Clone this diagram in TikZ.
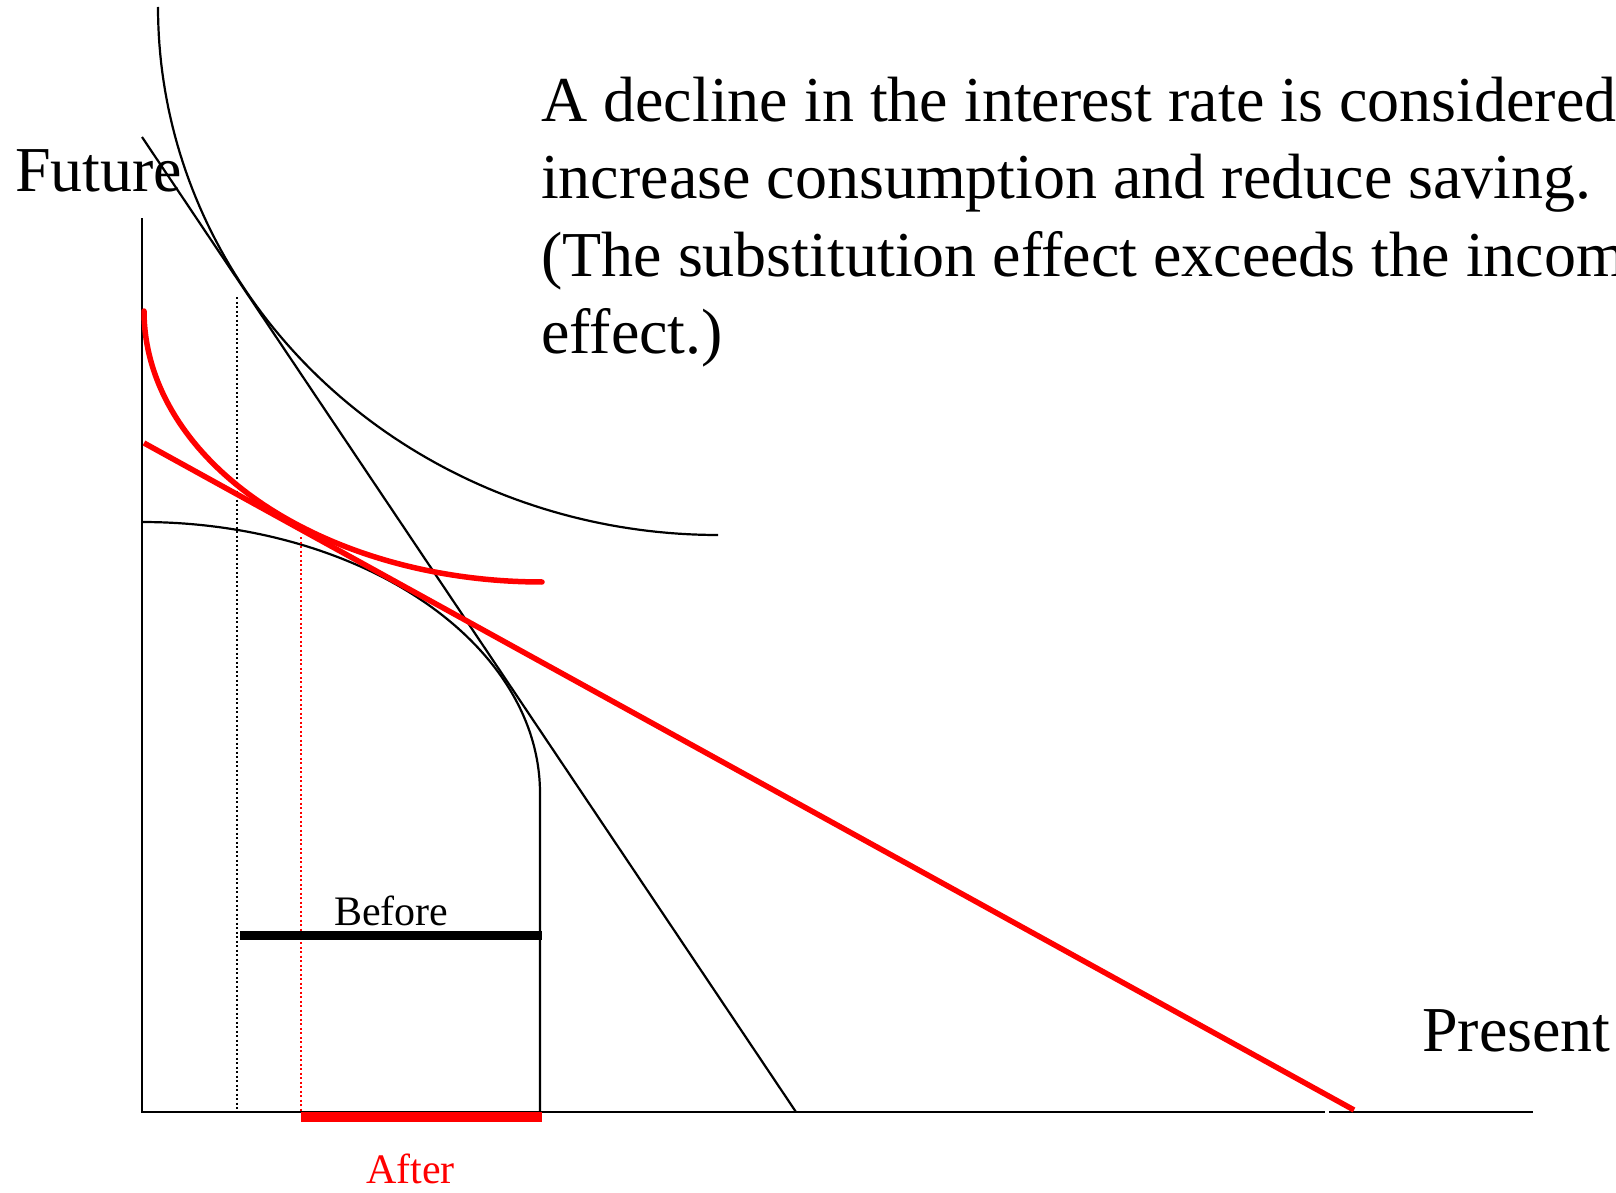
\documentclass[tikz,border=0pt]{standalone}
\usepackage{fontspec}
\setmainfont{Liberation Serif}
\begin{document}
\begin{tikzpicture}[x=1pt,y=-1pt,
  blk/.style={line width=2.2pt, black},
  redl/.style={line width=5.5pt, red},
  dotline/.style={line width=2pt, dash pattern=on 2pt off 2.5pt},
  big/.style={font=\fontsize{64}{77}\selectfont, inner sep=0pt, anchor=base west},
  small/.style={font=\fontsize{42}{50}\selectfont, inner sep=0pt, anchor=base west}]
\useasboundingbox (0,0) rectangle (1616,1193);
\clip (0,0) rectangle (1616,1193);
% axes
\coordinate (O) at (142,1112);
\coordinate (ytop) at (142,218);
\coordinate (xgapa) at (1325,1112);
\coordinate (xgapb) at (1329,1112);
\coordinate (xend) at (1533,1112);
\draw[blk] (ytop) -- (O) -- (xgapa);
\draw[blk] (xgapb) -- (xend);
% texts
\node[big] (future) at (15,192) {Future};
\node[big] (present) at (1422,1051) {Present};
\node[big] (l1) at (541,122) {A decline in the interest rate is considered};
\node[big] (l2) at (541,199) {increase consumption and reduce saving.};
\node[big] (l3) at (541,276) {(The substitution effect exceeds the income};
\node[big] (l4) at (541,353) {effect.)};
% upper indifference curve
\draw[blk] plot[domain=180:270, samples=90] ({718+560*cos(\x)},{7-528*sin(\x)});
% steep budget line
\coordinate (sb1) at (142,137);
\coordinate (sb2) at (796,1112);
\draw[blk] (sb1) -- (sb2);
% production possibility curve
\coordinate (ppfb) at (540,1112);
\draw[blk] plot[domain=90:0, samples=90] ({142+398*cos(\x)},{793-271*sin(\x)}) -- (ppfb);
% dotted verticals
\coordinate (da) at (237,297);
\coordinate (db) at (237,1112);
\draw[black, dotline] (da) -- (db);
\coordinate (ra) at (301,537);
\coordinate (rb) at (301,1112);
\draw[red, dotline] (ra) -- (rb);
% red indifference curve
\draw[redl, line cap=round] plot[domain=180:270, samples=90] ({542+398*cos(\x)},{311-271*sin(\x)});
% red budget line
\coordinate (rl1) at (144,443);
\coordinate (rl2) at (1354,1110);
\draw[redl] (rl1) -- (rl2);
% bars
\coordinate (ba) at (240,935);
\coordinate (bb) at (542,935);
\draw[black, line width=9pt] (ba) -- (bb);
\coordinate (aa) at (301,1117);
\coordinate (ab) at (542,1117);
\draw[red, line width=10pt] (aa) -- (ab);
\node[small] (before) at (334,925) {Before};
\node[small, text=red] (after) at (366,1183) {After};
\end{tikzpicture}
\end{document}
